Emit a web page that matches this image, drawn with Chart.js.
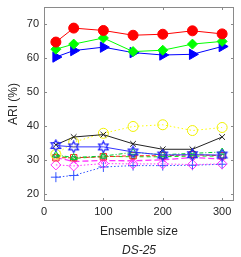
<!DOCTYPE html>
<html>
<head>
<meta charset="utf-8">
<script src="https://cdn.jsdelivr.net/npm/chart.js@4/dist/chart.umd.min.js"></script>
<style>
  body { margin: 0; background: #fff; }
  #wrap { width: 241px; height: 257px; }
</style>
</head>
<body>
<div id="wrap"><canvas id="chart" width="241" height="257"></canvas></div>
<script>
// ensemble sizes
var sizes = [20, 50, 100, 150, 200, 250, 300];
var xTicks = [0, 100, 200, 300];
var yTicks = [20, 30, 40, 50, 60, 70];

// ARI values per method
var redCircle   = [64.7, 68.8, 68.1, 66.7, 67.0, 68.0, 67.1];
var greenDiam   = [62.6, 64.1, 65.9, 61.9, 62.3, 64.1, 64.9];
var blueTri     = [60.3, 62.2, 63.2, 61.6, 60.9, 61.1, 63.4];
var yellowCirc  = [31.7, 35.3, 37.9, 39.9, 40.4, 38.7, 39.6];
var blackX      = [34.5, 36.8, 37.5, 34.8, 33.2, 33.2, 36.8];
var blueStar    = [34.3, 33.9, 33.9, 32.4, 31.5, 31.6, 31.5];
var greenTriUp  = [31.5, 30.8, 31.2, 32.3, 31.6, 32.0, 32.4];
var redSquare   = [30.7, 30.7, 31.0, 31.3, 31.3, 31.6, 31.3];
var greenDash   = [31.3, 30.5, 31.1, 31.0, 31.0, 31.2, 31.2];
var magentaX    = [30.8, 29.6, 29.9, 29.8, 30.1, 30.8, 30.3];
var magentaDiam = [28.6, 28.3, 29.0, 28.9, 28.9, 28.7, 28.9];
var bluePlus    = [25.0, 25.5, 28.0, 28.4, 28.4, 28.5, 28.8];

function pts(vals) {
  return vals.map(function(v, i) { return { x: sizes[i], y: v }; });
}

// hexagram marker, chart.js has no outline star like this
function hexagram(color) {
  var c = document.createElement('canvas');
  c.width = 13; c.height = 13;
  var g = c.getContext('2d');
  g.strokeStyle = color;
  g.lineWidth = 1.2;
  var cx = 6.5, cy = 6.5, r = 5.5;
  g.beginPath();
  for (var k = 0; k < 12; k++) {
    var rr = k % 2 === 0 ? r : r * 0.55;
    var a = -Math.PI / 2 + k * Math.PI / 6;
    var px = cx + rr * Math.cos(a), py = cy + rr * Math.sin(a);
    if (k === 0) g.moveTo(px, py); else g.lineTo(px, py);
  }
  g.closePath();
  g.stroke();
  return c;
}

function series(vals, color, style, opts) {
  var d = {
    data: pts(vals),
    showLine: true,
    borderColor: color,
    backgroundColor: 'rgba(0,0,0,0)',
    borderWidth: 1,
    pointStyle: style,
    pointRadius: 4,
    pointBorderColor: color,
    pointBackgroundColor: 'rgba(0,0,0,0)',
    pointBorderWidth: 1
  };
  for (var k in opts) d[k] = opts[k];
  return d;
}

var datasets = [
  series(redCircle, '#ff0000', 'circle', { pointRadius: 5, pointBackgroundColor: '#ff0000' }),
  series(greenDiam, '#00ff00', 'rectRot', { pointRadius: 5, pointBackgroundColor: '#00ff00' }),
  series(blueTri, '#0000ff', 'triangle', { pointRadius: 6, pointRotation: 90, pointBackgroundColor: '#0000ff' }),
  series(blueStar, '#3333ff', hexagram('#2020ff'), {}),
  series(blackX, '#222222', 'crossRot', { pointRadius: 4 }),
  series(yellowCirc, '#ffff00', 'circle', { borderDash: [1.5, 2.5], pointRadius: 5, pointBorderColor: '#f0f000' }),
  series(greenTriUp, '#00cc33', 'triangle', { borderDash: [4, 2, 1, 2], pointRadius: 4 }),
  series(redSquare, '#ff2222', 'rect', { borderDash: [4, 2], pointRadius: 4.5 }),
  series(greenDash, '#00ee00', 'rect', { borderDash: [4, 3], pointRadius: 2.5, pointBorderColor: '#228855' }),
  series(magentaX, '#ff33ff', 'crossRot', { borderDash: [6, 3], borderWidth: 1.3, pointRadius: 3.5 }),
  series(magentaDiam, '#ff33ff', 'rectRot', { borderDash: [1.5, 2], pointRadius: 5 }),
  series(bluePlus, '#3355ff', 'cross', { borderDash: [1.5, 2], pointRadius: 5 })
];

var axisColor = '#8a8a8a';
var textColor = '#262626';
var fontFam = '"Liberation Sans", Arial, sans-serif';

// box, inward ticks and text in the matlab style
var framePlugin = {
  id: 'frame',
  afterDraw: function(chart) {
    var ctx = chart.ctx, a = chart.chartArea;
    var xs = chart.scales.x, ys = chart.scales.y;
    ctx.save();
    ctx.strokeStyle = axisColor;
    ctx.lineWidth = 1;
    ctx.strokeRect(Math.round(a.left) + 0.5, Math.round(a.top) + 0.5,
      Math.round(a.right - a.left) - 1, Math.round(a.bottom - a.top) - 1);
    ctx.beginPath();
    xTicks.forEach(function(t) {
      var px = Math.round(xs.getPixelForValue(t)) + 0.5;
      ctx.moveTo(px, a.bottom); ctx.lineTo(px, a.bottom - 3);
      ctx.moveTo(px, a.top); ctx.lineTo(px, a.top + 3);
    });
    yTicks.forEach(function(t) {
      var py = Math.round(ys.getPixelForValue(t)) + 0.5;
      ctx.moveTo(a.left, py); ctx.lineTo(a.left + 3, py);
      ctx.moveTo(a.right, py); ctx.lineTo(a.right - 3, py);
    });
    ctx.stroke();

    ctx.fillStyle = textColor;
    ctx.font = '11px ' + fontFam;
    ctx.textAlign = 'center';
    ctx.textBaseline = 'middle';
    xTicks.forEach(function(t) {
      ctx.fillText(String(t), xs.getPixelForValue(t), 212);
    });
    ctx.textAlign = 'right';
    yTicks.forEach(function(t) {
      ctx.fillText(String(t), a.left - 5, ys.getPixelForValue(t));
    });

    ctx.font = '12px ' + fontFam;
    ctx.textAlign = 'center';
    ctx.fillText('Ensemble size', (a.left + a.right) / 2, 232);
    ctx.font = 'italic 12px ' + fontFam;
    ctx.fillText('DS-25', (a.left + a.right) / 2, 251);

    ctx.translate(14, (a.top + a.bottom) / 2);
    ctx.rotate(-Math.PI / 2);
    ctx.font = '12px ' + fontFam;
    ctx.fillText('ARI (%)', 0, 0);
    ctx.restore();
  }
};

var ctx = document.getElementById('chart').getContext('2d');
var chart = new Chart(ctx, {
  type: 'scatter',
  data: { datasets: datasets },
  options: {
    responsive: false,
    animation: false,
    layout: { padding: { left: 0, right: 6, top: 4, bottom: 0 } },
    plugins: {
      legend: { display: false },
      tooltip: { enabled: false }
    },
    scales: {
      x: {
        type: 'linear',
        min: 0,
        max: 320,
        grid: { display: false, drawTicks: false },
        border: { display: false },
        ticks: { display: false },
        afterFit: function(s) { s.height = 56; }
      },
      y: {
        type: 'linear',
        min: 18,
        max: 75,
        grid: { display: false, drawTicks: false },
        border: { display: false },
        ticks: { display: false },
        afterFit: function(s) { s.width = 44; }
      }
    }
  },
  plugins: [framePlugin]
});
</script>
</body>
</html>
